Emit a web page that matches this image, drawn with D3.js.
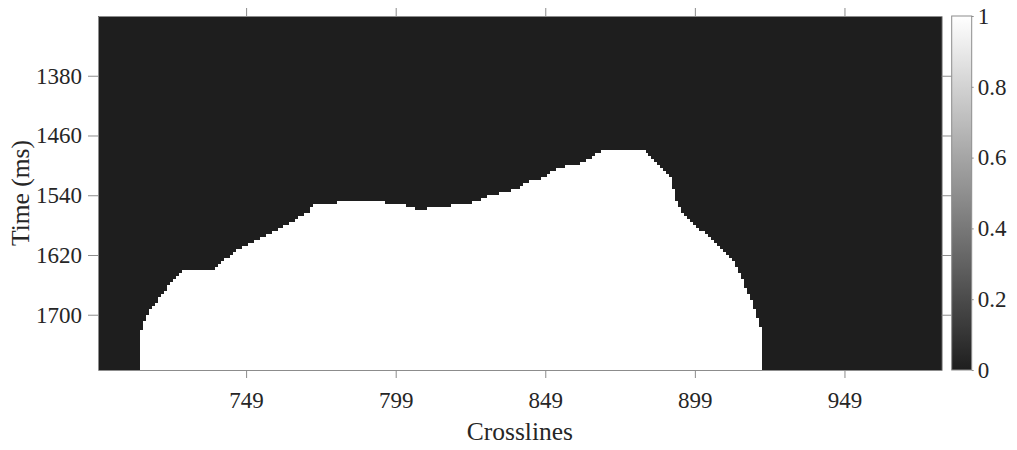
<!DOCTYPE html>
<html>
<head>
<meta charset="utf-8">
<script src="https://cdn.jsdelivr.net/npm/d3@7"></script>
<style>
  body { margin: 0; background: #fff; }
  text { font-family: "Liberation Serif", "Times New Roman", serif; fill: #262626; }
</style>
</head>
<body>
<div class="chart"></div>
<script>
// axis ticks
const crosslineTicks = [749, 799, 849, 899, 949];
const timeTicks = [1380, 1460, 1540, 1620, 1700];
const colorTicks = [0, 0.2, 0.4, 0.6, 0.8, 1];

// extent of the section (cell edges)
const crosslineExtent = [699.5, 981.5];
const timeExtent = [1300, 1774];

// white mask (value 1): runs of crosslines, each with the time of its top edge
const runFirst = [714, 715, 716, 717, 718, 719, 720, 721, 722, 723, 724, 725, 726, 727,
  728, 739, 740, 741, 742, 744, 745, 746, 748, 750, 752, 754, 756, 758, 760, 762, 764, 766,
  767, 769, 771, 772, 780, 796, 803, 806, 810, 818, 825, 828, 830, 834, 838, 841, 842, 844,
  848, 850, 851, 853, 856, 861, 863, 865, 866, 868,
  883, 884, 885, 886, 887, 888, 889, 890, 891, 892, 893, 894, 895, 896, 897, 898, 899, 900, 901,
  903, 904, 905, 906, 907, 908, 909, 910, 911, 912, 913, 914, 915, 916, 917, 918, 919, 920, 921];
const runTop = [1720, 1708, 1700, 1692, 1688, 1684, 1676, 1672, 1668, 1660, 1656, 1652, 1648, 1644,
  1640, 1636, 1632, 1628, 1624, 1620, 1616, 1612, 1608, 1604, 1600, 1596, 1592, 1588, 1584, 1580, 1576, 1572,
  1568, 1564, 1556, 1552, 1548, 1552, 1556, 1560, 1556, 1552, 1548, 1544, 1540, 1536, 1532, 1528, 1524, 1520,
  1516, 1512, 1508, 1504, 1500, 1496, 1492, 1488, 1484, 1480,
  1484, 1488, 1492, 1496, 1500, 1504, 1508, 1512, 1516, 1532, 1548, 1556, 1564, 1568, 1572, 1576, 1580, 1584, 1588,
  1592, 1596, 1600, 1604, 1608, 1612, 1616, 1620, 1624, 1628, 1636, 1644, 1652, 1664, 1672, 1680, 1692, 1704, 1716];
const lastWhite = 921;

const width = 1017, height = 450;
const plot = { left: 98, right: 941.7, top: 16, bottom: 370 };
const bar = { left: 951.7, right: 971.7 };
const tickFont = 23, labelFont = 25.5;
const axisGrey = "#8c8c8c";

const svg = d3.select(".chart")
    .append("svg")
    .attr("width", width)
    .attr("height", height);

const xScale = d3.scaleLinear().domain(crosslineExtent).range([plot.left, plot.right]);
const yScale = d3.scaleLinear().domain(timeExtent).range([plot.top, plot.bottom]);
const color = d3.scaleLinear().domain([0, 1]).range(["#1e1e1e", "#ffffff"]);
const cbScale = d3.scaleLinear().domain([0, 1]).range([plot.bottom, plot.top]);

const runs = runFirst.map((c, i) => ({
    first: c,
    last: i < runFirst.length - 1 ? runFirst[i + 1] - 1 : lastWhite,
    top: runTop[i]
}));

// image
const img = svg.append("g").attr("shape-rendering", "crispEdges");
img.append("rect")
    .attr("x", xScale(crosslineExtent[0]))
    .attr("y", yScale(timeExtent[0]))
    .attr("width", xScale(crosslineExtent[1]) - xScale(crosslineExtent[0]))
    .attr("height", yScale(timeExtent[1]) - yScale(timeExtent[0]))
    .attr("fill", color(0));
img.selectAll("rect.run")
    .data(runs)
    .join("rect")
    .attr("class", "run")
    .attr("x", d => xScale(d.first - 0.5))
    .attr("y", d => yScale(d.top))
    .attr("width", d => xScale(d.last + 0.5) - xScale(d.first - 0.5))
    .attr("height", d => yScale(timeExtent[1]) - yScale(d.top))
    .attr("fill", color(1));

// axes
const styleAxis = g => {
    g.attr("font-family", null);
    g.select(".domain").attr("stroke", axisGrey);
    g.selectAll(".tick line").attr("stroke", axisGrey);
    g.selectAll(".tick text").attr("font-size", tickFont).attr("fill", "#262626");
};

svg.append("g")
    .attr("transform", `translate(0,${plot.bottom})`)
    .call(d3.axisBottom(xScale).tickValues(crosslineTicks).tickSize(8).tickSizeOuter(0)
        .tickPadding(14).tickFormat(d3.format("d")))
    .call(styleAxis);

svg.append("g")
    .attr("transform", `translate(0,${plot.top})`)
    .call(d3.axisTop(xScale).tickValues(crosslineTicks).tickSize(8).tickSizeOuter(0).tickFormat(""))
    .call(styleAxis);

svg.append("g")
    .attr("transform", `translate(${plot.left},0)`)
    .call(d3.axisLeft(yScale).tickValues(timeTicks).tickSize(10).tickSizeOuter(0)
        .tickPadding(6).tickFormat(d3.format("d")))
    .call(styleAxis);

svg.append("g")
    .attr("transform", `translate(${plot.right},0)`)
    .call(d3.axisRight(yScale).tickValues(timeTicks).tickSize(10).tickSizeOuter(0).tickFormat(""))
    .call(styleAxis);

// axis titles
svg.append("text")
    .attr("x", (plot.left + plot.right) / 2)
    .attr("y", 440)
    .attr("text-anchor", "middle")
    .attr("font-size", labelFont)
    .text("Crosslines");

svg.append("text")
    .attr("transform", `translate(29,${(plot.top + plot.bottom) / 2}) rotate(-90)`)
    .attr("text-anchor", "middle")
    .attr("font-size", labelFont)
    .text("Time (ms)");

// colorbar
const grad = svg.append("defs").append("linearGradient")
    .attr("id", "cbar")
    .attr("x1", 0).attr("y1", 1).attr("x2", 0).attr("y2", 0);
grad.selectAll("stop")
    .data(d3.range(0, 1.0001, 0.1))
    .join("stop")
    .attr("offset", d => d)
    .attr("stop-color", d => color(d));

svg.append("rect")
    .attr("x", bar.left)
    .attr("y", cbScale(1))
    .attr("width", bar.right - bar.left)
    .attr("height", cbScale(0) - cbScale(1))
    .attr("fill", "url(#cbar)")
    .attr("stroke", axisGrey)
    .attr("stroke-width", 1);

svg.append("g")
    .attr("transform", `translate(${bar.right},0)`)
    .call(d3.axisRight(cbScale).tickValues(colorTicks).tickSize(2).tickSizeOuter(0).tickPadding(4)
        .tickFormat(d => d === 0 || d === 1 ? d3.format("d")(d) : d3.format(".1f")(d)))
    .call(g => g.select(".domain").remove())
    .call(styleAxis);
</script>
</body>
</html>
